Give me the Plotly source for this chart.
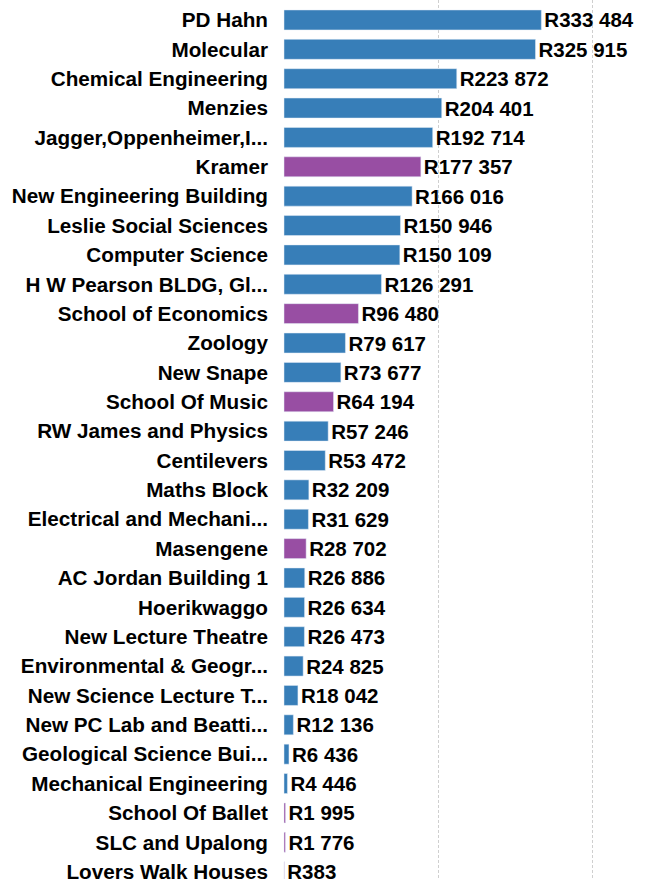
import plotly.graph_objects as go

# edificios e valores (de cima para baixo)
edificios = [
    "PD Hahn", "Molecular", "Chemical Engineering", "Menzies",
    "Jagger,Oppenheimer,I...", "Kramer", "New Engineering Building",
    "Leslie Social Sciences", "Computer Science", "H W Pearson BLDG, Gl...",
    "School of Economics", "Zoology", "New Snape", "School Of Music",
    "RW James and Physics", "Centilevers", "Maths Block",
    "Electrical and Mechani...", "Masengene", "AC Jordan Building 1",
    "Hoerikwaggo", "New Lecture Theatre", "Environmental & Geogr...",
    "New Science Lecture T...", "New PC Lab and Beatti...",
    "Geological Science Bui...", "Mechanical Engineering",
    "School Of Ballet", "SLC and Upalong", "Lovers Walk Houses",
]
valores = [
    333484, 325915, 223872, 204401, 192714, 177357, 166016, 150946, 150109,
    126291, 96480, 79617, 73677, 64194, 57246, 53472, 32209, 31629, 28702,
    26886, 26634, 26473, 24825, 18042, 12136, 6436, 4446, 1995, 1776, 383,
]
# grupo: "A" = azul, "B" = roxo
grupos = [
    "A", "A", "A", "A", "A", "B", "A", "A", "A", "A",
    "B", "A", "A", "B", "A", "A", "A", "A", "B", "A",
    "A", "A", "A", "A", "A", "A", "A", "B", "B", "B",
]

cores = {"A": "#377EB8", "B": "#984EA3"}
rotulos = ["R" + f"{v:,}".replace(",", " ") for v in valores]

fig = go.Figure(go.Bar(
    x=valores,
    y=edificios,
    orientation="h",
    marker_color=[cores[g] for g in grupos],
    text=rotulos,
    textposition="outside",
    constraintext="none",
    cliponaxis=False,
    textfont=dict(family="Liberation Sans", size=20.5, color="black", weight="bold"),
    hoverinfo="skip",
))

n = len(edificios)
fig.update_layout(
    width=649, height=883,
    margin=dict(l=283, r=0, t=0, b=0),
    plot_bgcolor="white", paper_bgcolor="white",
    bargap=0.32,
    showlegend=False,
    xaxis=dict(
        range=[-1300, 473000], dtick=200000, showticklabels=False,
        showgrid=True, gridcolor="#cfcfcf", griddash="3px,2px", gridwidth=1,
        zeroline=False, showline=False,
    ),
    yaxis=dict(
        range=[n - 1 + 0.25, -0.679], showgrid=False, zeroline=False,
        tickfont=dict(family="Liberation Sans", size=20.7, color="black", weight="bold"),
        ticklabelstandoff=14,
    ),
)

fig.write_html(
    "out.html",
    config={"displayModeBar": False},
    post_script="document.body.style.margin='0';",
)
